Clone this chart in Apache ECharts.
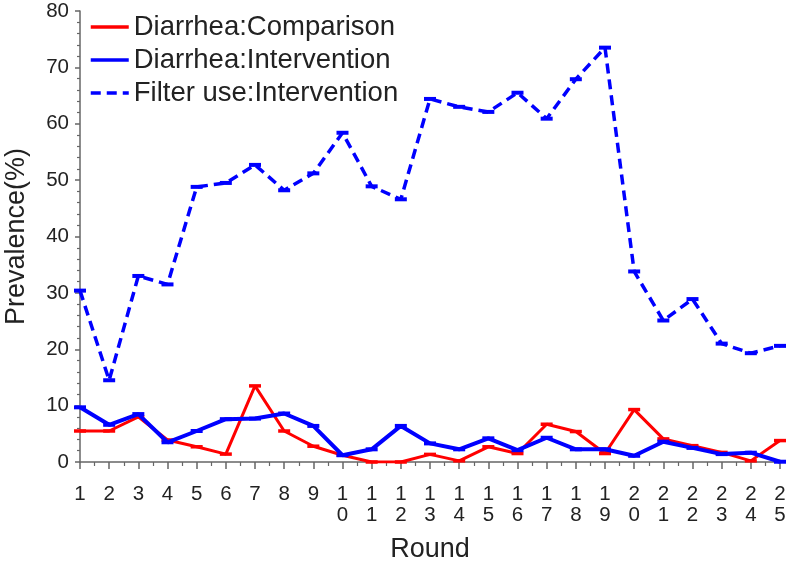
<!DOCTYPE html>
<html>
<head>
<meta charset="utf-8">
<script src="https://cdn.jsdelivr.net/npm/echarts@6/dist/echarts.min.js"></script>
<style>
html,body{margin:0;padding:0;background:#fff;}
#chart{width:789px;height:562px;}
</style>
</head>
<body>
<div id="chart"></div>
<script>
var rounds = [1,2,3,4,5,6,7,8,9,10,11,12,13,14,15,16,17,18,19,20,21,22,23,24,25];
var diarrheaComparison = [5.5,5.5,8.0,3.9,2.7,1.4,13.5,5.5,2.8,1.2,0.0,0.0,1.35,0.2,2.7,1.5,6.7,5.4,1.5,9.3,4.1,2.9,1.7,0.2,3.8];
var diarrheaIntervention = [9.7,6.6,8.5,3.5,5.5,7.6,7.7,8.6,6.4,1.2,2.25,6.4,3.3,2.25,4.2,2.1,4.3,2.25,2.25,1.1,3.6,2.5,1.4,1.65,0.05];
var filterUse = [30.4,14.5,33.0,31.5,48.8,49.5,52.7,48.2,51.2,58.4,48.9,46.6,64.4,63.0,62.1,65.5,60.9,67.9,73.5,33.8,25.1,28.9,21.0,19.3,20.6];
var seriesNames = ['Diarrhea:Comparison','Diarrhea:Intervention','Filter use:Intervention'];

function pairs(vals){ return rounds.map(function(r,i){ return [r, vals[i]]; }); }

var FONT = '"Liberation Sans", Arial, sans-serif';
var chart = echarts.init(document.getElementById('chart'), null, {renderer:'canvas'});
chart.setOption({
  animation: false,
  backgroundColor: '#ffffff',
  grid: { left: 80, right: 9, top: 11, bottom: 100, containLabel: false, outerBoundsMode: 'none' },
  legend: {
    orient: 'vertical', left: 84, top: 8, itemGap: 5,
    itemWidth: 38, itemHeight: 14,
    itemStyle: { opacity: 0 },
    lineStyle: { width: 3.5 },
    textStyle: { fontFamily: FONT, fontSize: 27.5, color: '#222', lineHeight: 27 },
    data: seriesNames
  },
  xAxis: {
    type: 'value', min: 1, max: 25, interval: 1, offset: 5,
    name: 'Round', nameLocation: 'middle', nameGap: 69,
    nameTextStyle: { fontFamily: FONT, fontSize: 27, color: '#222' },
    axisLine: { show: true, lineStyle: { color: '#666', width: 1.5 } },
    axisTick: { show: true, length: 7, lineStyle: { color: '#666', width: 1.5 } },
    minorTick: { show: true, splitNumber: 2, length: 4, lineStyle: { color: '#666', width: 1.2 } },
    splitLine: { show: false },
    axisLabel: {
      fontFamily: FONT, fontSize: 20.5, lineHeight: 21, color: '#222', margin: 17,
      showMinLabel: true, showMaxLabel: true,
      formatter: function(v){ return String(v).split('').join('\n'); }
    }
  },
  yAxis: {
    type: 'value', min: 0, max: 80, interval: 10,
    name: 'Prevalence(%)', nameLocation: 'middle', nameGap: 50,
    nameTextStyle: { fontFamily: FONT, fontSize: 27, color: '#222' },
    axisLine: { show: true, lineStyle: { color: '#666', width: 1.5 } },
    axisTick: { show: true, length: 5, lineStyle: { color: '#666', width: 1.5 } },
    minorTick: { show: true, splitNumber: 5, length: 3, lineStyle: { color: '#666', width: 1.2 } },
    splitLine: { show: false },
    axisLabel: { fontFamily: FONT, fontSize: 20.5, color: '#222', margin: 11 }
  },
  series: [
    {
      name: seriesNames[0], type: 'line', data: pairs(diarrheaComparison),
      symbol: 'rect', symbolSize: [12, 3.5], showSymbol: true,
      lineStyle: { color: '#ff0000', width: 3 },
      itemStyle: { color: '#ff0000' }, z: 2
    },
    {
      name: seriesNames[1], type: 'line', data: pairs(diarrheaIntervention),
      symbol: 'rect', symbolSize: [12, 4], showSymbol: true,
      lineStyle: { color: '#0000ff', width: 4 },
      itemStyle: { color: '#0000ff' }, z: 3
    },
    {
      name: seriesNames[2], type: 'line', data: pairs(filterUse),
      symbol: 'rect', symbolSize: [12, 4], showSymbol: true,
      lineStyle: { color: '#0000ff', width: 3.5, type: [10, 6] },
      itemStyle: { color: '#0000ff' }, z: 4
    }
  ]
});
</script>
</body>
</html>
